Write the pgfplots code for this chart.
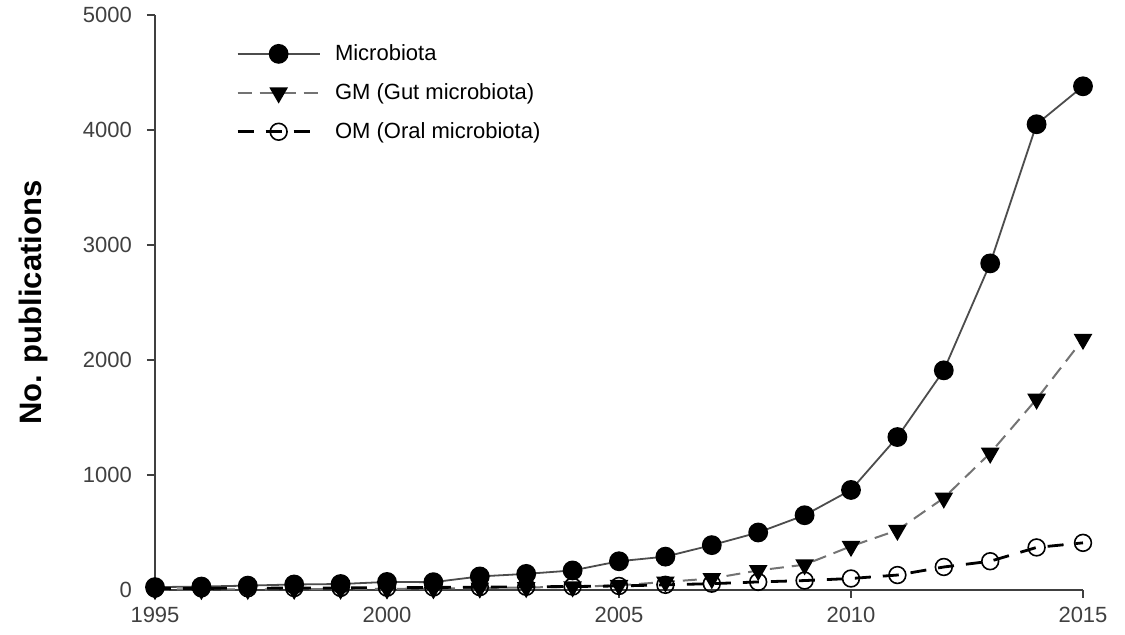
\documentclass[border=0pt]{standalone}
\usepackage{fontspec}
\setmainfont{Liberation Sans}
\usepackage{pgfplots}
\pgfplotsset{compat=1.18}
\usetikzlibrary{calc}
\begin{document}
\begin{tikzpicture}
\begin{axis}[
  name=ax, scale only axis, width=464pt, height=287.5pt,
  xmin=1995, xmax=2015, ymin=0, ymax=5000,
  axis lines*=left,
  axis line style={black!75, line width=0.9pt},
  xtick={1995,2000,...,2015}, ytick={0,1000,...,5000},
  tick align=outside, major tick length=4pt,
  tick style={black!75, line width=0.8pt},
  /pgf/number format/assume math mode=true,
  /pgf/number format/1000 sep={},
  scaled y ticks=false,
  x tick label style={font=\fontsize{11}{13}\selectfont, text=black!75, yshift=-1pt},
  y tick label style={font=\fontsize{11}{13}\selectfont, text=black!75, xshift=-4pt},
  ylabel={No. publications},
  ylabel style={font=\fontsize{15.5}{18}\selectfont\bfseries, at={(axis description cs:-0.131,0.5)}, anchor=center},
  clip=false,
  legend style={draw=none, fill=none, at={(rel axis cs:0.085,0.96)}, anchor=north west,
    font=\fontsize{11}{13}\selectfont, row sep=6pt, inner sep=1pt,
    /tikz/every odd column/.append style={column sep=5pt}},
  legend cell align=left,
  legend image code/.code={\draw[mark repeat=2, mark phase=2] plot coordinates {(0cm,0cm) (0.72cm,0cm) (1.44cm,0cm)};},
]
\addplot[black!70, line width=0.9pt, mark=*, mark size=4.5pt, mark options={solid, fill=black, draw=black}]
coordinates {
(1995,25) (1996,30) (1997,38) (1998,48) (1999,52) (2000,70) (2001,68)
(2002,118) (2003,140) (2004,170) (2005,250) (2006,290) (2007,390)
(2008,500) (2009,650) (2010,870) (2011,1330) (2012,1910) (2013,2840)
(2014,4050) (2015,4380)};
\addlegendentry{Microbiota}
\addplot[black!55, line width=1pt, dash pattern=on 7pt off 4pt, mark=triangle*, mark size=4.4pt, mark options={solid, fill=black, draw=black, rotate=180}]
coordinates {
(1995,5) (1996,5) (1997,6) (1998,7) (1999,8) (2000,10) (2001,12)
(2002,18) (2003,22) (2004,28) (2005,40) (2006,70) (2007,100)
(2008,170) (2009,220) (2010,380) (2011,520) (2012,800) (2013,1190)
(2014,1660) (2015,2180)};
\addlegendentry{GM (Gut microbiota)}
\addplot[black, line width=1.4pt, dash pattern=on 8pt off 6pt, mark=o, mark size=4.2pt, mark options={solid, fill=white, draw=black, line width=0.8pt}]
coordinates {
(1995,12) (1996,14) (1997,15) (1998,17) (1999,18) (2000,20) (2001,22)
(2002,25) (2003,28) (2004,30) (2005,35) (2006,45) (2007,55)
(2008,70) (2009,82) (2010,100) (2011,130) (2012,200) (2013,250)
(2014,370) (2015,410)};
\addlegendentry{OM (Oral microbiota)}
\end{axis}
\pgfresetboundingbox
\path ($(ax.south west)+(-77.5pt,-22.5pt)$) rectangle ($(ax.north east)+(21pt,7.5pt)$);
\end{tikzpicture}
\end{document}
